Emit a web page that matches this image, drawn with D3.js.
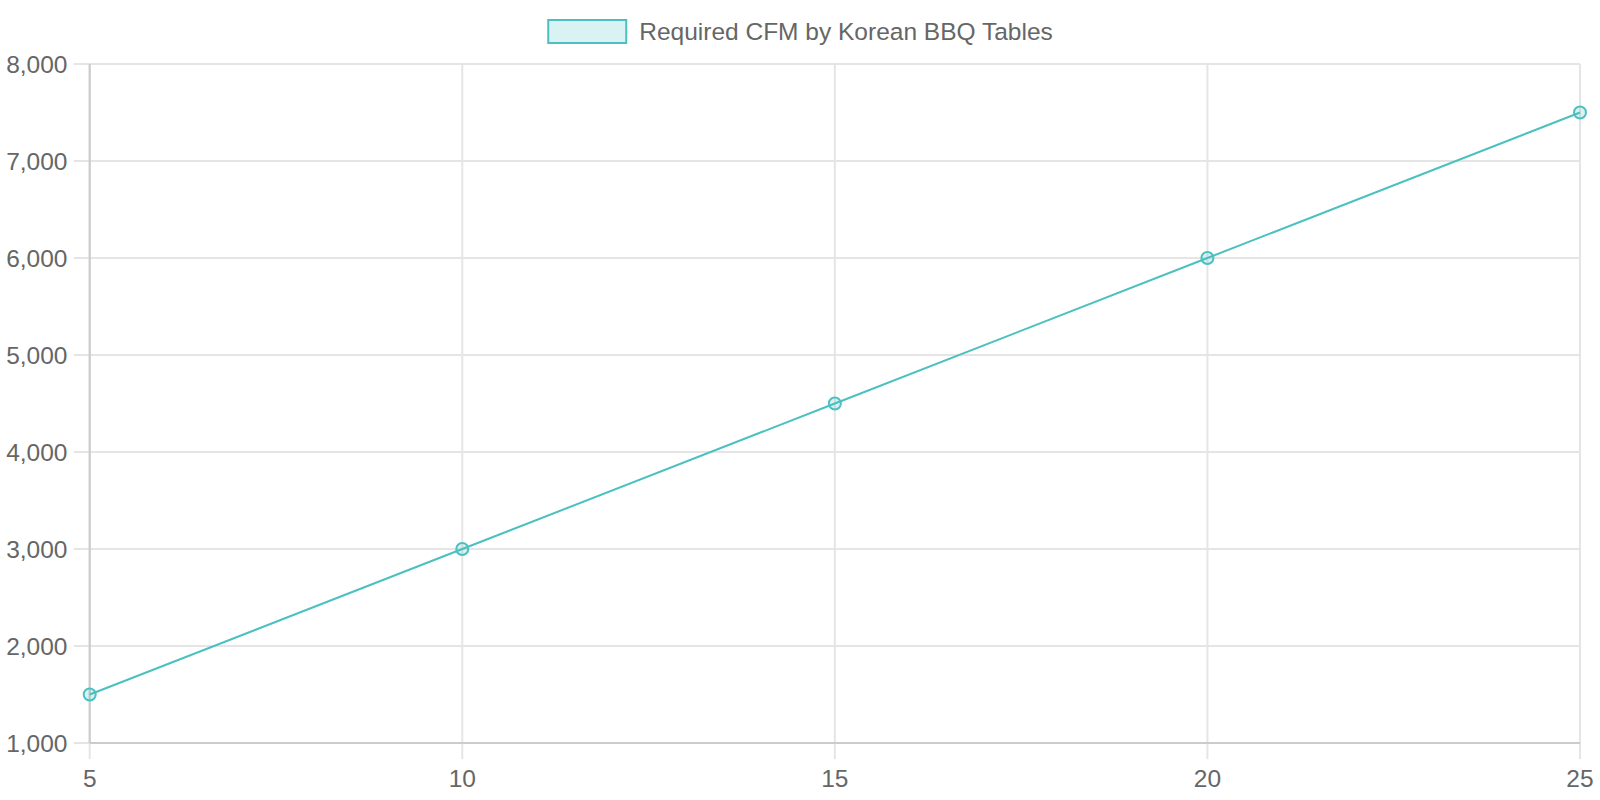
<!DOCTYPE html>
<html>
<head>
<meta charset="utf-8">
<script src="https://cdn.jsdelivr.net/npm/d3@7"></script>
<style>
  html, body { margin: 0; padding: 0; background: #fff; }
  svg { display: block; font-family: "Liberation Sans", Arial, sans-serif; }
</style>
</head>
<body>
<svg id="chart" width="1600" height="800"></svg>
<script>
const seriesName = "Required CFM by Korean BBQ Tables";
const tables = [5, 10, 15, 20, 25];
const cfm = [1500, 3000, 4500, 6000, 7500];
const xTicks = [5, 10, 15, 20, 25];
const yTicks = [1000, 2000, 3000, 4000, 5000, 6000, 7000, 8000];

(function () {
const lineColor = "rgb(75,192,192)";
const fillColor = "rgba(75,192,192,0.2)";
const textColor = "#666";
const gridColor = "#e5e5e5";
const axisColor = "#cbcbcb";
const fs = 24.5;

const svg = d3.select("#chart");
const plotLeft = 89.7, plotRight = 1580, plotTop = 64, plotBottom = 743;

const x = d3.scaleLinear().domain([5, 25]).range([plotLeft, plotRight]);
const y = d3.scaleLinear().domain([1000, 8000]).range([plotBottom, plotTop]);

const grid = svg.append("g");
grid.selectAll(".vg").data(xTicks).join("line")
  .attr("x1", d => x(d)).attr("x2", d => x(d))
  .attr("y1", plotTop).attr("y2", plotBottom + 16)
  .attr("stroke", gridColor).attr("stroke-width", 2);
grid.selectAll(".hg").data(yTicks).join("line")
  .attr("x1", plotLeft - 16).attr("x2", plotRight)
  .attr("y1", d => y(d)).attr("y2", d => y(d))
  .attr("stroke", gridColor).attr("stroke-width", 2);

svg.append("line").attr("x1", plotLeft).attr("x2", plotLeft).attr("y1", plotTop).attr("y2", plotBottom)
  .attr("stroke", axisColor).attr("stroke-width", 2);
svg.append("line").attr("x1", plotLeft).attr("x2", plotRight).attr("y1", plotBottom).attr("y2", plotBottom)
  .attr("stroke", axisColor).attr("stroke-width", 2);

const fmt = d3.format(",");
svg.append("g").selectAll("text").data(yTicks).join("text")
  .attr("x", 67.5).attr("y", d => y(d))
  .attr("text-anchor", "end").attr("dominant-baseline", "central")
  .attr("font-size", fs).attr("fill", textColor)
  .text(d => fmt(d));

svg.append("g").selectAll("text").data(xTicks).join("text")
  .attr("x", d => x(d)).attr("y", 787)
  .attr("text-anchor", "middle")
  .attr("font-size", fs).attr("fill", textColor)
  .text(d => d);

const data = tables.map((t, i) => ({ t, v: cfm[i] }));
svg.append("path").datum(data)
  .attr("d", d3.line().x(d => x(d.t)).y(d => y(d.v)))
  .attr("fill", "none").attr("stroke", lineColor).attr("stroke-width", 2);

svg.append("g").selectAll("circle").data(data).join("circle")
  .attr("cx", d => x(d.t)).attr("cy", d => y(d.v)).attr("r", 6)
  .attr("fill", fillColor).attr("stroke", lineColor).attr("stroke-width", 2);

const legend = svg.append("g");
const lt = legend.append("text")
  .attr("y", 31.5).attr("dominant-baseline", "central")
  .attr("font-size", fs).attr("fill", textColor).text(seriesName);
const tw = lt.node().getComputedTextLength();
const total = 80 + 12 + tw;
const lx = 800 - total / 2;
legend.append("rect").attr("x", lx + 1).attr("y", 20).attr("width", 78).attr("height", 23)
  .attr("fill", fillColor).attr("stroke", lineColor).attr("stroke-width", 2);
lt.attr("x", lx + 92);
})();
</script>
</body>
</html>
